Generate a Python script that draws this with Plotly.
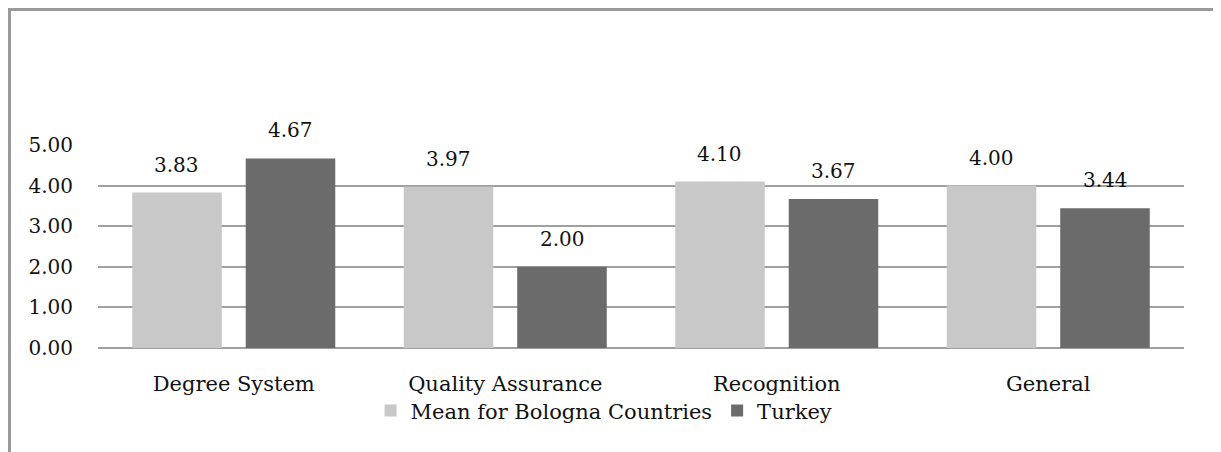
import plotly.graph_objects as go

categories = ["Degree System", "Quality Assurance", "Recognition", "General"]
bologna_mean = [3.83, 3.97, 4.10, 4.00]
turkey = [4.67, 2.00, 3.67, 3.44]
series_names = ["Mean for Bologna Countries", "Turkey"]
tick_vals = [0, 1, 2, 3, 4, 5]
tick_text = ["0.00", "1.00", "2.00", "3.00", "4.00", "5.00"]

FONT = "DejaVu Serif"
FS = 21
LIGHT = "#c8c8c8"
DARK = "#6b6b6b"

fig = go.Figure()
fig.add_trace(go.Bar(x=categories, y=bologna_mean, name=series_names[0],
                     marker=dict(color=LIGHT, line=dict(width=0))))
fig.add_trace(go.Bar(x=categories, y=turkey, name=series_names[1],
                     marker=dict(color=DARK, line=dict(width=0))))

annotations = []
for cat, v in zip(categories, bologna_mean):
    annotations.append(dict(x=cat, y=v, text=f"{v:.2f}", showarrow=False,
                            xshift=-57, yshift=28, yanchor="middle",
                            font=dict(family=FONT, size=FS - 1, color="#111")))
for cat, v in zip(categories, turkey):
    annotations.append(dict(x=cat, y=v, text=f"{v:.2f}", showarrow=False,
                            xshift=57, yshift=28, yanchor="middle",
                            font=dict(family=FONT, size=FS - 1, color="#111")))

fig.update_layout(
    width=1221, height=452,
    margin=dict(l=90, r=45, t=137, b=112),
    paper_bgcolor="white", plot_bgcolor="white",
    font=dict(family=FONT, size=FS, color="#111"),
    barmode="group", bargap=0.164, bargroupgap=0.211,
    showlegend=True,
    legend=dict(orientation="h", x=0.466, xanchor="center", y=-0.31, yanchor="middle",
                font=dict(family=FONT, size=FS), itemwidth=30, traceorder="normal",
                bgcolor="rgba(0,0,0,0)"),
    annotations=annotations,
    shapes=[dict(type="rect", xref="paper", yref="paper",
                 x0=-0.0815, x1=1.0308, y0=-0.6, y1=1.6675,
                 line=dict(color="#9a9a9a", width=3), fillcolor="rgba(0,0,0,0)", layer="below")],
)
fig.update_xaxes(showgrid=False, showline=False, zeroline=False, ticks="",
                 ticklabelstandoff=21, tickfont=dict(family=FONT, size=FS))
fig.update_yaxes(range=[0, 5], tickvals=tick_vals, ticktext=tick_text,
                 showgrid=True, gridcolor="#a0a0a0", gridwidth=2,
                 zeroline=True, zerolinecolor="#a0a0a0", zerolinewidth=2,
                 showline=False, ticks="", ticklabelstandoff=24,
                 tickfont=dict(family=FONT, size=FS - 1))

fig.write_html("out.html")
